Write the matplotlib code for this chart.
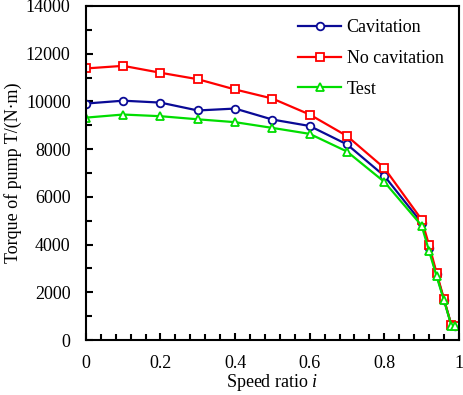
import matplotlib
matplotlib.use("Agg")
import matplotlib.pyplot as plt
from matplotlib.ticker import MultipleLocator

plt.rcParams['font.family'] = ['Liberation Serif', 'DejaVu Serif']
plt.rcParams['mathtext.fontset'] = 'custom'
plt.rcParams['mathtext.it'] = 'Liberation Serif:italic'
plt.rcParams['mathtext.rm'] = 'Liberation Serif'

speed_ratio = [0, 0.1, 0.2, 0.3, 0.4, 0.5, 0.6, 0.7, 0.8, 0.9, 0.92, 0.94, 0.96, 0.98, 0.99]
cavitation = [9910, 10030, 9950, 9620, 9700, 9240, 8970, 8200, 6880, 4920, 3850, 2760, 1690, 620, 580]
no_cavitation = [11380, 11490, 11200, 10930, 10500, 10120, 9450, 8550, 7210, 5050, 3980, 2830, 1720, 620, 590]
test = [9320, 9450, 9380, 9250, 9130, 8890, 8640, 7900, 6630, 4800, 3740, 2680, 1670, 600, 570]
x_ticks = [0, 0.2, 0.4, 0.6, 0.8, 1.0]
x_tick_labels = ['0', '0.2', '0.4', '0.6', '0.8', '1']

fig = plt.figure(figsize=(4.64, 3.95), dpi=100)
ax = fig.add_axes([0.185, 0.139, 0.804, 0.846])

common = dict(linewidth=1.6, markersize=5.5, markerfacecolor='white', markeredgewidth=1.3)
ax.plot(speed_ratio, cavitation, '-o', color='#0a0a96', label='Cavitation', **common)
ax.plot(speed_ratio, no_cavitation, '-s', color='#ff0000', label='No cavitation', **common)
ax.plot(speed_ratio, test, '-^', color='#00dd00', label='Test', **common)

ax.set_xlim(0, 1)
ax.set_ylim(0, 14000)
ax.set_xticks(x_ticks)
ax.set_xticklabels(x_tick_labels)
ax.xaxis.set_minor_locator(MultipleLocator(0.04))
ax.yaxis.set_major_locator(MultipleLocator(2000))
ax.yaxis.set_minor_locator(MultipleLocator(1000))
ax.tick_params(which='both', direction='in', labelsize=13, width=1.5)
ax.tick_params(which='major', length=5)
ax.tick_params(which='minor', length=4)
ax.tick_params(axis='y', which='major', pad=11)
ax.tick_params(axis='x', which='major', pad=10.5)
for s in ax.spines.values():
    s.set_linewidth(1.5)

ax.set_xlabel('Speed ratio $\\mathit{i}$', fontsize=13, labelpad=0.5)
ax.set_ylabel('Torque of pump T/(N·m)', fontsize=13, labelpad=3)

ax.legend(loc='upper right', frameon=False, fontsize=13, handlelength=2.4,
          handletextpad=0.3, labelspacing=0.75, borderaxespad=0.35,
          bbox_to_anchor=(0.995, 1.0))

fig.savefig('out.png', dpi=100)
